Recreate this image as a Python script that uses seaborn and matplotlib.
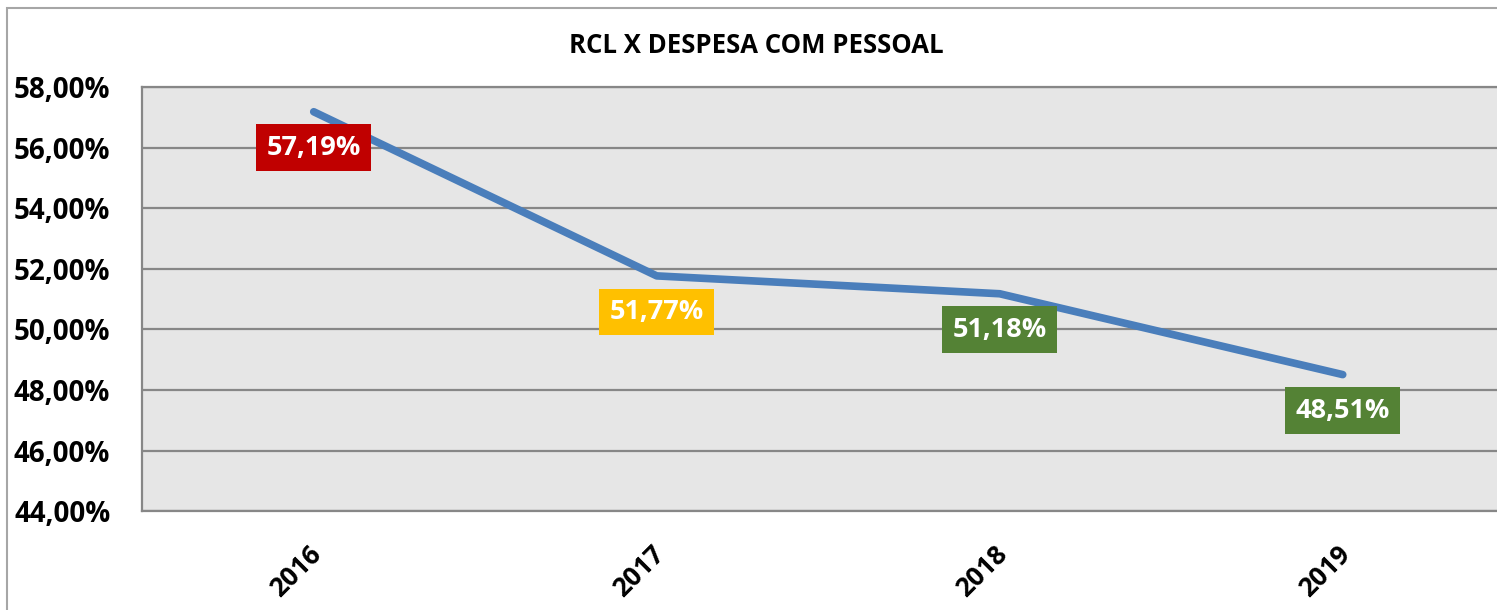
import pandas as pd
import matplotlib.pyplot as plt
import matplotlib.transforms as mtransforms
import seaborn as sns
from matplotlib.patches import Rectangle

# chart values
years = ['2016', '2017', '2018', '2019']
despesa = [57.19, 51.77, 51.18, 48.51]
label_colors = ['#C00000', '#FFC000', '#548235', '#548235']
y_ticks = [44, 46, 48, 50, 52, 54, 56, 58]

df = pd.DataFrame({'Ano': years, 'Despesa': despesa})

sns.set_style('white')
plt.rcParams['font.family'] = ['Open Sans', 'DejaVu Sans']
plt.rcParams['font.weight'] = 'bold'
plt.rcParams['text.color'] = 'black'
plt.rcParams['xtick.color'] = 'black'
plt.rcParams['ytick.color'] = 'black'

fig = plt.figure(figsize=(14.97, 6.10), dpi=100)
ax = fig.add_axes([0.095, 0.162, 0.9165, 0.695])
ax.set_facecolor('#E6E6E6')

sns.lineplot(data=df, x='Ano', y='Despesa', ax=ax, color='#4A7EBB',
             linewidth=5.5, sort=False)

ax.set_xlim(-0.5, 3.5)
ax.set_ylim(44, 58)
ax.set_yticks(y_ticks)
ax.set_yticklabels([f'{v:.2f}%'.replace('.', ',') for v in y_ticks],
                   fontsize=20, fontweight='bold')
ax.set_xticks(range(len(years)))
ax.set_xticklabels(years, rotation=45, ha='right', rotation_mode='anchor',
                   fontsize=19, fontweight='bold')
ax.tick_params(axis='both', length=0)
ax.tick_params(axis='x', pad=21)
ax.tick_params(axis='y', pad=23)
shift = mtransforms.ScaledTranslation(-6 / 100, 0, fig.dpi_scale_trans)
for lbl in ax.get_xticklabels():
    lbl.set_transform(lbl.get_transform() + shift)

ax.yaxis.grid(True, color='#878787', linewidth=1.6)
ax.set_axisbelow(True)
ax.set_xlabel('')
ax.set_ylabel('')
ax.spines['right'].set_visible(False)
for side in ['left', 'bottom', 'top']:
    ax.spines[side].set_color('#878787')
    ax.spines[side].set_linewidth(1.6)

for i, (v, c) in enumerate(zip(despesa, label_colors)):
    ax.annotate(f'{v:.2f}%'.replace('.', ','), xy=(i, v), xytext=(0, -36),
                textcoords='offset pixels', ha='center', va='center',
                fontsize=19.5, fontweight='bold', color='white',
                bbox=dict(boxstyle='square,pad=0.38', fc=c, ec='none'))

fig.text(0.505, 0.926, 'RCL X DESPESA COM PESSOAL', ha='center', va='center',
         fontsize=18.5, fontweight='bold')

fig.patches.append(Rectangle((0.005, -0.05), 1.2, 1.037, transform=fig.transFigure,
                             fill=False, edgecolor='#A6A6A6', linewidth=1.5))

fig.savefig('out.png', dpi=100)
